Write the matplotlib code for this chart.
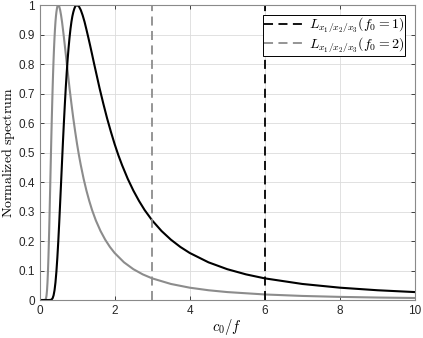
import matplotlib
matplotlib.use("Agg")
import matplotlib.pyplot as plt

plt.rcParams["mathtext.fontset"] = "cm"
plt.rcParams["font.family"] = ["Liberation Sans", "DejaVu Sans"]

# Spectrum for f0 = 1 (black)
x_f1 = [0.0, 0.2, 0.25, 0.3, 0.325, 0.35, 0.375, 0.4, 0.425, 0.45, 0.475,
        0.5, 0.525, 0.55, 0.575, 0.6, 0.625, 0.65, 0.675, 0.7, 0.725, 0.75,
        0.775, 0.8, 0.825, 0.85, 0.875, 0.9, 0.925, 0.95, 0.975, 1.0, 1.05,
        1.1, 1.15, 1.2, 1.25, 1.3, 1.35, 1.4, 1.45, 1.5, 1.6, 1.7, 1.8, 1.9,
        2.0, 2.1, 2.2, 2.35, 2.5, 2.65, 2.8, 3.0, 3.25, 3.5, 3.75, 4.0, 4.5,
        5.0, 5.5, 6.0, 7.0, 8.0, 9.0, 10.0]
y_f1 = [0.0, 0.0, 0.0, 0.0005, 0.0020, 0.0063, 0.0158, 0.0328, 0.0594,
        0.0962, 0.1432, 0.199, 0.262, 0.330, 0.399, 0.469, 0.538, 0.603,
        0.664, 0.721, 0.772, 0.817, 0.856, 0.890, 0.919, 0.943, 0.962, 0.976,
        0.987, 0.995, 0.999, 1.0, 0.9955, 0.983, 0.965, 0.943, 0.917, 0.890,
        0.862, 0.833, 0.8035, 0.775, 0.718, 0.6655, 0.616, 0.571, 0.529,
        0.491, 0.457, 0.411, 0.371, 0.336, 0.305, 0.270, 0.234, 0.2045, 0.180,
        0.1596, 0.1278, 0.1045, 0.0869, 0.0734, 0.0544, 0.0418, 0.0331,
        0.0269]

# Spectrum for f0 = 2 (grey)
x_f2 = [0.0, 0.1, 0.125, 0.15, 0.1625, 0.175, 0.1875, 0.2, 0.2125, 0.225,
        0.2375, 0.25, 0.2625, 0.275, 0.2875, 0.3, 0.3125, 0.325, 0.3375, 0.35,
        0.3625, 0.375, 0.3875, 0.4, 0.4125, 0.425, 0.4375, 0.45, 0.4625,
        0.475, 0.4875, 0.5, 0.525, 0.55, 0.575, 0.6, 0.625, 0.65, 0.675, 0.7,
        0.725, 0.75, 0.8, 0.85, 0.9, 0.95, 1.0, 1.05, 1.1, 1.175, 1.25, 1.325,
        1.4, 1.5, 1.625, 1.75, 1.875, 2.0, 2.25, 2.5, 2.75, 3.0, 3.5, 4.0, 4.5,
        5.0, 6.0, 7.0, 8.0, 9.0, 10.0]
y_f2 = [0.0, 0.0, 0.0, 0.0005, 0.0020, 0.0063, 0.0158, 0.0328, 0.0594,
        0.0962, 0.1432, 0.199, 0.262, 0.330, 0.399, 0.469, 0.538, 0.603,
        0.664, 0.721, 0.772, 0.817, 0.856, 0.890, 0.919, 0.943, 0.962, 0.976,
        0.987, 0.995, 0.999, 1.0, 0.9955, 0.983, 0.965, 0.943, 0.917, 0.890,
        0.862, 0.833, 0.8035, 0.775, 0.718, 0.6655, 0.616, 0.571, 0.529,
        0.491, 0.457, 0.411, 0.371, 0.336, 0.305, 0.270, 0.234, 0.2045, 0.180,
        0.1596, 0.1278, 0.1045, 0.0869, 0.0734, 0.0544, 0.0418, 0.0331,
        0.0269, 0.0188, 0.0138, 0.0106, 0.0084, 0.0068]

# vertical markers
vline_f1 = 6
vline_f2 = 3

grey = "#8c8c8c"

fig = plt.figure(figsize=(4.23, 3.38), dpi=100)
ax = fig.add_axes([0.0934, 0.1124, 0.8876, 0.8726])

ax.plot(x_f2, y_f2, color=grey, lw=1.5)
ax.plot(x_f1, y_f1, color="black", lw=1.5)
l1 = ax.axvline(vline_f1, color="black", lw=1.3, ls=(0, (5, 3)),
                label=r"$L_{x_1/x_2/x_3}(f_0=1)$")
l2 = ax.axvline(vline_f2, color=grey, lw=1.3, ls=(0, (5, 3)),
                label=r"$L_{x_1/x_2/x_3}(f_0=2)$")

ax.set_xlim(0, 10)
ax.set_ylim(0, 1)
ax.set_xticks([0, 2, 4, 6, 8, 10])
ax.set_yticks([i / 10 for i in range(11)])
ax.set_yticklabels(["0", "0.1", "0.2", "0.3", "0.4", "0.5", "0.6", "0.7",
                    "0.8", "0.9", "1"])
ax.grid(True, color="#dcdcdc", lw=0.6)
ax.set_axisbelow(True)
ax.tick_params(direction="in", length=3, width=0.6, labelsize=8.5,
               colors="#262626", top=True, right=True)
for s in ax.spines.values():
    s.set_color("#8a8a8a")
    s.set_linewidth(0.8)

ax.set_xlabel(r"$c_0/f$", fontsize=10.5, labelpad=0)
ax.set_ylabel(r"$\mathrm{Normalized\ spectrum}$", fontsize=10, labelpad=1)

leg = ax.legend(handles=[l1, l2], loc="upper right", fontsize=10,
                fancybox=False, framealpha=1, edgecolor="black",
                handlelength=3.0, handletextpad=0.2, borderpad=0.1,
                labelspacing=0.0, borderaxespad=0.7)
leg.get_frame().set_linewidth(0.7)

fig.savefig("out.png", dpi=100)
